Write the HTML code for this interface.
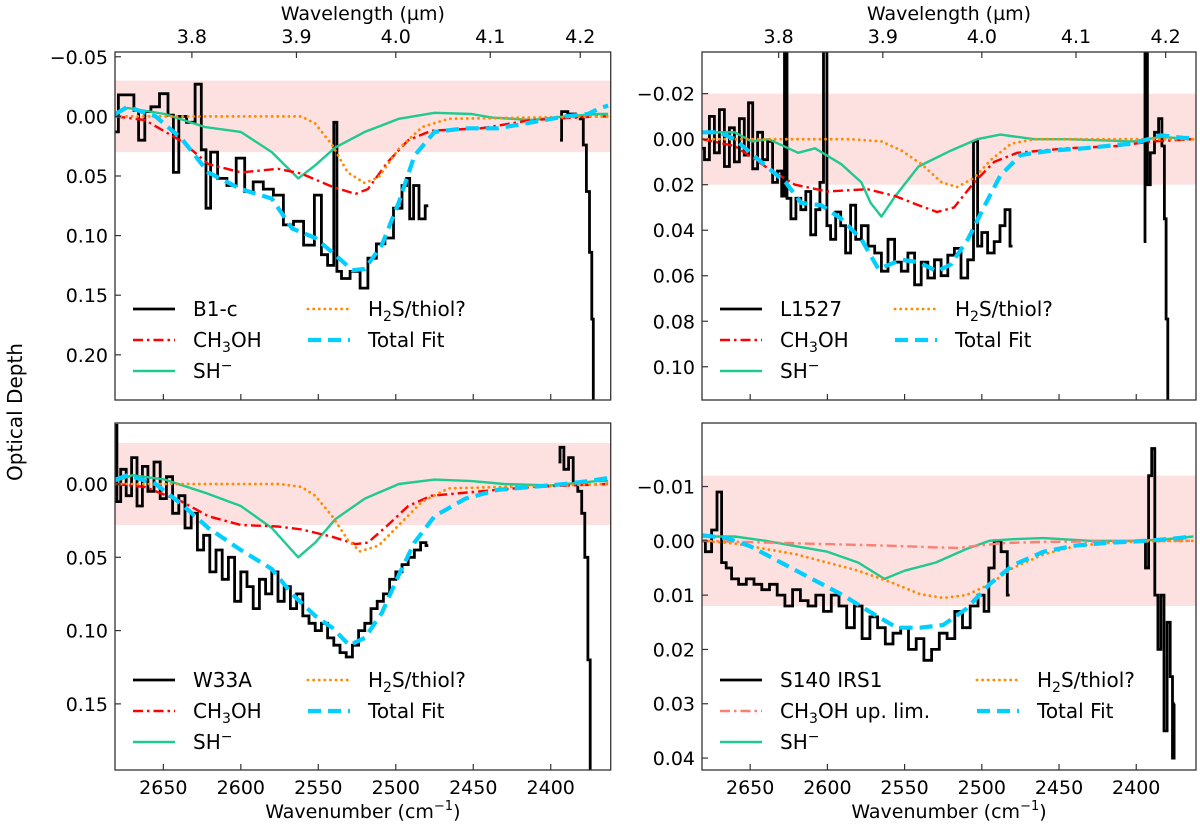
<!DOCTYPE html>
<html><head><meta charset="utf-8"><style>
html,body{margin:0;padding:0;background:#fff}
svg{display:block;font-family:"DejaVu Sans","Liberation Sans",sans-serif}
</style></head><body>
<svg id="fig" width="1200" height="827" viewBox="0 0 1200 827" xmlns="http://www.w3.org/2000/svg"></svg>
<script>
// ---------- shared axis data ----------
const wnTicks=[2650,2600,2550,2500,2450,2400];
const wlTicks=[3.8,3.9,4.0,4.1,4.2];
// ---------- B1-c (top-left) ----------
const b1Name="B1-c";
const b1YTicks=[-0.05,0,0.05,0.10,0.15,0.20];
const b1ShNu=[2681,2673,2649,2623,2600,2580,2563,2552,2539,2520,2498,2475,2451,2438,2412,2391,2369,2363];
const b1ShTau=[-0.002,-0.007,-0.002,0.009,0.013,0.03,0.052,0.041,0.026,0.013,0.002,-0.003,-0.002,0.001,0.003,0,-0.002,-0.002];
const b1MeNu=[2681,2662,2638,2621,2600,2576,2561,2541,2526,2518,2505,2492,2477,2445,2412,2370,2363];
const b1MeTau=[0,0.003,0.021,0.04,0.047,0.044,0.048,0.059,0.065,0.061,0.038,0.02,0.012,0.01,0.003,0,0];
const b1HsNu=[2681,2561,2552,2541,2531,2520,2511,2498,2483,2466,2363];
const b1HsTau=[0,0,0.006,0.024,0.047,0.056,0.051,0.027,0.009,0.002,0];
const b1FitNu=[2681,2673,2655,2638,2621,2600,2580,2567,2552,2541,2528,2520,2509,2498,2488,2475,2455,2434,2412,2391,2376,2368,2363];
const b1FitTau=[-0.002,-0.008,0,0.019,0.047,0.061,0.069,0.094,0.102,0.114,0.129,0.128,0.108,0.072,0.033,0.013,0.01,0.01,0.005,0,-0.002,-0.007,-0.009];
const b1ObsNu=[2681,2677,2670,2668,2664,2660,2656,2649,2645,2642,2638,2632,2627,2624,2621,2618,2612,2606,2600,2595,2589,2582,2576,2569,2563,2556,2549,2547,2541,2539,2537,2533,2526,2520,2516,2509,2505,2498,2494,2492,2490,2487,2483,2479];
const b1ObsTau=[0.013,-0.018,-0.018,-0.005,0.02,-0.004,-0.008,-0.019,-0.001,0.047,0,0.005,-0.027,0.028,0.077,0.03,0.052,0.058,0.035,0.063,0.055,0.061,0.066,0.091,0.088,0.108,0.066,0.116,0.125,0.005,0.13,0.136,0.13,0.144,0.119,0.107,0.102,0.077,0.058,0.052,0.086,0.058,0.086,0.075];
const b1Obs2Nu=[2394,2392,2386,2382,2380,2378,2376,2374,2373,2372];
const b1Obs2Tau=[0.02,-0.004,-0.002,0,0.002,0.024,0.063,0.114,0.17,0.26];
// ---------- L1527 (top-right) ----------
const l1Name="L1527";
const l1YTicks=[-0.02,0,0.02,0.04,0.06,0.08,0.10];
const l1ShNu=[2681,2660,2649,2638,2619,2608,2591,2578,2572,2565,2556,2541,2520,2503,2488,2466,2445,2423,2402,2384,2363];
const l1ShTau=[-0.003,-0.003,0.001,0,0.006,0.004,0.011,0.019,0.028,0.034,0.025,0.012,0.005,0,-0.002,0,0,0.0005,0.001,-0.001,0];
const l1MeNu=[2681,2660,2638,2621,2600,2574,2556,2541,2529,2518,2505,2492,2477,2445,2412,2390,2363];
const l1MeTau=[0,0.003,0.013,0.02,0.023,0.022,0.025,0.029,0.032,0.03,0.019,0.01,0.006,0.004,0.003,0.001,0];
const l1HsNu=[2681,2585,2565,2552,2539,2526,2516,2505,2494,2481,2466,2363];
const l1HsTau=[0,0,0.001,0.005,0.011,0.019,0.021,0.017,0.009,0.002,0,0];
const l1FitNu=[2681,2670,2660,2643,2627,2617,2604,2591,2578,2567,2552,2541,2529,2520,2509,2498,2488,2475,2455,2434,2412,2402,2384,2369,2363];
const l1FitTau=[-0.003,-0.003,0,0.01,0.019,0.028,0.029,0.035,0.044,0.057,0.053,0.054,0.058,0.055,0.044,0.029,0.016,0.007,0.005,0.004,0.0025,0.002,-0.0017,-0.0005,-0.0005];
const l1ObsNu=[2681.2,2678,2674.8,2671.5,2668.3,2665.1,2661.8,2658.6,2655.4,2652.2,2650,2646.8,2643.6,2640.3,2637.1,2633.9,2630.7,2628.5,2627,2625.3,2622,2618.8,2615.6,2612.4,2609.2,2605.9,2603.8,2601.2,2599.5,2596.3,2593,2589.8,2586.6,2583.3,2580.1,2575.8,2571.5,2567.2,2562.9,2558.6,2554.3,2550,2545.7,2541.4,2537.1,2532.8,2528.5,2524.2,2519.9,2515.6,2511.3,2507,2503.8,2501.6,2498.4,2494.1,2489.8,2486.6,2483.4,2480.1];
const l1ObsTau=[0.004,0.009,-0.010,0.006,-0.013,0.012,-0.005,0.010,-0.009,0.007,-0.016,0.013,-0.003,0.009,0.001,0.019,0.014,0.025,-0.046,0.026,0.035,0.026,0.031,0.023,0.042,0.031,0.019,-0.046,0.038,0.044,0.032,0.038,0.050,0.029,0.044,0.038,0.047,0.050,0.058,0.044,0.054,0.058,0.050,0.064,0.054,0.061,0.053,0.060,0.051,0.048,0.061,0.053,0.001,0.047,0.041,0.050,0.045,0.038,0.031,0.047];
const l1Obs2Nu=[2395.2,2393.5,2392,2389.8,2386.6,2384.4,2382.3,2381.2,2380.1,2379];
const l1Obs2Tau=[0.045,-0.046,0.020,0.006,-0.003,-0.009,0.003,0.035,0.079,0.12];
// ---------- W33A (bottom-left) ----------
const w3Name="W33A";
const w3YTicks=[0,0.05,0.10,0.15];
const w3ShNu=[2681,2670,2649,2623,2600,2580,2563,2552,2539,2520,2498,2475,2451,2430,2400,2370,2363];
const w3ShTau=[-0.002,-0.006,-0.003,0.006,0.015,0.03,0.05,0.04,0.024,0.01,0,-0.003,-0.002,0,0.001,-0.002,-0.002];
const w3MeNu=[2681,2662,2638,2621,2600,2576,2561,2541,2526,2518,2505,2492,2477,2445,2412,2363];
const w3MeTau=[0,0.002,0.012,0.022,0.028,0.029,0.031,0.036,0.041,0.04,0.028,0.015,0.008,0.005,0.002,0];
const w3HsNu=[2681,2575,2561,2552,2541,2531,2523,2511,2498,2483,2466,2363];
const w3HsTau=[0,0,0.002,0.008,0.022,0.038,0.046,0.042,0.028,0.012,0.003,0];
const w3FitNu=[2681,2673,2655,2638,2621,2600,2580,2567,2552,2541,2530,2520,2509,2498,2488,2475,2455,2434,2412,2391,2376,2363];
const w3FitTau=[-0.003,-0.006,0,0.014,0.03,0.045,0.058,0.075,0.09,0.098,0.11,0.105,0.088,0.062,0.04,0.022,0.01,0.004,0.002,0,-0.002,-0.004];
const w3ObsNu=[2681,2679,2676,2672,2669,2665,2662,2658,2654,2650,2646,2642,2638,2634,2630,2626,2622,2618,2614,2610,2606,2602,2598,2594,2590,2586,2582,2578,2574,2570,2566,2562,2558,2554,2550,2546,2542,2538,2534,2530,2526,2522,2518,2514,2510,2506,2502,2498,2494,2490,2486,2482,2479];
const w3ObsTau=[-0.04,0.012,-0.01,0.008,-0.018,0.015,-0.012,0.005,-0.015,0.01,-0.005,0.02,0.008,0.03,0.02,0.045,0.035,0.06,0.045,0.065,0.05,0.08,0.06,0.07,0.085,0.065,0.075,0.06,0.08,0.07,0.085,0.075,0.09,0.095,0.1,0.095,0.105,0.11,0.115,0.118,0.11,0.1,0.095,0.085,0.08,0.075,0.065,0.06,0.055,0.05,0.045,0.04,0.042];
const w3Obs2Nu=[2395,2393,2390,2387,2384,2381,2379,2377,2375,2374];
const w3Obs2Tau=[-0.015,-0.025,-0.01,-0.018,0,0.005,0.02,0.05,0.12,0.2];
// ---------- S140 IRS1 (bottom-right) ----------
const s1Name="S140 IRS1";
const s1YTicks=[-0.01,0,0.01,0.02,0.03,0.04];
const s1ShNu=[2681,2660,2640,2620,2600,2580,2563,2550,2530,2510,2495,2480,2460,2430,2400,2380,2363];
const s1ShTau=[-0.0008,-0.0008,0,0.001,0.002,0.004,0.007,0.0055,0.004,0.0015,0,-0.0003,-0.0005,0,0,-0.0003,-0.0008];
const s1MeNu=[2681,2640,2600,2560,2530,2515,2500,2485,2460,2420,2363];
const s1MeTau=[0,0.0003,0.0006,0.0009,0.0012,0.0013,0.0008,0.0004,0.0002,0.0001,0];
const s1HsNu=[2681,2660,2640,2620,2600,2580,2560,2540,2525,2510,2495,2480,2460,2440,2420,2400,2363];
const s1HsTau=[0,0.0005,0.0015,0.0025,0.004,0.0055,0.0075,0.0098,0.0105,0.01,0.008,0.005,0.0025,0.001,0.0004,0.0001,0];
const s1FitNu=[2681,2665,2650,2630,2610,2590,2570,2555,2540,2525,2510,2495,2480,2460,2440,2420,2400,2380,2363];
const s1FitTau=[-0.001,-0.0005,0.001,0.004,0.007,0.01,0.0135,0.016,0.016,0.0155,0.0125,0.008,0.0045,0.002,0.0009,0.0004,0.0001,-0.0003,-0.0008];
const s1ObsNu=[2681,2677,2673,2670,2667,2664,2660,2655,2650,2645,2640,2635,2630,2625,2620,2615,2610,2605,2600,2595,2590,2585,2580,2575,2570,2565,2560,2555,2550,2545,2540,2535,2530,2525,2520,2515,2510,2505,2500,2497,2494,2490,2485,2482];
const s1ObsTau=[0,0.002,-0.002,-0.009,0.004,0.005,0.007,0.008,0.007,0.008,0.009,0.008,0.01,0.012,0.009,0.011,0.012,0.01,0.013,0.01,0.012,0.016,0.012,0.018,0.014,0.016,0.019,0.017,0.016,0.02,0.018,0.022,0.02,0.017,0.018,0.013,0.016,0.012,0.01,0.013,0.005,0,0.002,0.01];
const s1Obs2Nu=[2395,2393,2391,2389,2387,2385,2383,2381,2379,2377,2376,2375];
const s1Obs2Tau=[0,0.005,-0.012,-0.017,0.01,0.02,0.01,0.035,0.015,0.025,0.04,0.03];

const NS="http://www.w3.org/2000/svg";
const svg=document.getElementById('fig');
function mk(tag,attrs,parent){const e=document.createElementNS(NS,tag);for(const k in attrs)e.setAttribute(k,attrs[k]);(parent||svg).appendChild(e);return e;}

const panels=[
 {id:'b1',L:115,R:610.7,T:52,B:400,ymin:-0.0540,ymax:0.2379,band:0.03,name:b1Name,yt:b1YTicks,dec:2,top:true,
  sh:[b1ShNu,b1ShTau],me:[b1MeNu,b1MeTau],hs:[b1HsNu,b1HsTau],fit:[b1FitNu,b1FitTau],obs:[b1ObsNu,b1ObsTau],obs2:[b1Obs2Nu,b1Obs2Tau],meLab:'CH3OH',meCol:'#ff0000'},
 {id:'l1',L:702,R:1196,T:52,B:400,ymin:-0.0383,ymax:0.1146,band:0.02,name:l1Name,yt:l1YTicks,dec:2,top:true,
  sh:[l1ShNu,l1ShTau],me:[l1MeNu,l1MeTau],hs:[l1HsNu,l1HsTau],fit:[l1FitNu,l1FitTau],obs:[l1ObsNu,l1ObsTau],obs2:[l1Obs2Nu,l1Obs2Tau],meLab:'CH3OH',meCol:'#ff0000'},
 {id:'w3',L:115,R:610.7,T:423,B:770,ymin:-0.0416,ymax:0.1951,band:0.028,name:w3Name,yt:w3YTicks,dec:2,top:false,
  sh:[w3ShNu,w3ShTau],me:[w3MeNu,w3MeTau],hs:[w3HsNu,w3HsTau],fit:[w3FitNu,w3FitTau],obs:[w3ObsNu,w3ObsTau],obs2:[w3Obs2Nu,w3Obs2Tau],meLab:'CH3OH',meCol:'#ff0000'},
 {id:'s1',L:702,R:1196,T:423,B:770,ymin:-0.0217,ymax:0.0422,band:0.012,name:s1Name,yt:s1YTicks,dec:2,top:false,
  sh:[s1ShNu,s1ShTau],me:[s1MeNu,s1MeTau],hs:[s1HsNu,s1HsTau],fit:[s1FitNu,s1FitTau],obs:[s1ObsNu,s1ObsTau],obs2:[s1Obs2Nu,s1Obs2Tau],meLab:'CH3OH up. lim.',meCol:'#fa8072'}
];
const NU0=2681.2, NU1=2361.3;
const shStyle={stroke:'#1fc98f','stroke-width':2.4};
const hsStyle={stroke:'#ff8c00','stroke-width':2.8,'stroke-dasharray':'0.1,5.5','stroke-linecap':'round'};
const fitStyle={stroke:'#00cfff','stroke-width':4.2,'stroke-dasharray':'13,7'};

panels.forEach(p=>{
  const sx=nu=>p.L+(NU0-nu)/(NU0-NU1)*(p.R-p.L);
  const sy=t=>p.T+(t-p.ymin)/(p.ymax-p.ymin)*(p.B-p.T);
  const meStyle={stroke:p.meCol,'stroke-width':2.4,'stroke-dasharray':'10,4,2.5,4'};
  const g=mk('g',{});
  
  
  const cp=mk('clipPath',{id:'clip-'+p.id},g);
  mk('rect',{x:p.L,y:p.T,width:p.R-p.L,height:p.B-p.T},cp);
  const band=mk('rect',{x:p.L,y:sy(-p.band),width:p.R-p.L,height:sy(p.band)-sy(-p.band),fill:'#fde0e0'},g);
  
  
  const cg=mk('g',{'clip-path':'url(#clip-'+p.id+')'},g);
  function line(arr,style,name){
    const d=arr[0].map((nu,i)=>(i?'L':'M')+sx(nu).toFixed(1)+','+sy(arr[1][i]).toFixed(1)).join('');
    const e=mk('path',Object.assign({d:d,fill:'none','stroke-linejoin':'round'},style),cg);
    
    
  }
  function steps(arr,name){
    const nus=arr[0],ts=arr[1];let d='';
    for(let i=0;i<nus.length;i++){
      const x0=i?(sx(nus[i-1])+sx(nus[i]))/2:sx(nus[i]);
      const x1=i<nus.length-1?(sx(nus[i])+sx(nus[i+1]))/2:sx(nus[i]);
      const y=sy(ts[i]);
      d+=(i?'L':'M')+x0.toFixed(1)+','+y.toFixed(1)+'L'+x1.toFixed(1)+','+y.toFixed(1);
    }
    const e=mk('path',{d:d,fill:'none',stroke:'#000','stroke-width':2.8,'stroke-linejoin':'miter'},cg);
    
    
  }
  steps(p.obs,'observed-spectrum');
  steps(p.obs2,'observed-spectrum-edge');
  line(p.sh,shStyle,'sh-minus-curve');
  line(p.me,meStyle,'ch3oh-curve');
  line(p.hs,hsStyle,'h2s-curve');
  line(p.fit,fitStyle,'total-fit-curve');
  const fr=mk('rect',{x:p.L,y:p.T,width:p.R-p.L,height:p.B-p.T,fill:'none',stroke:'#333','stroke-width':1.3},g);
  
  
  wnTicks.forEach(v=>{
    const x=sx(v);
    mk('line',{x1:x,x2:x,y1:p.B,y2:p.B-6,stroke:'#333','stroke-width':1.2},g);
    if(!p.top){const t=mk('text',{x:x,y:p.B+24,'font-size':19,'text-anchor':'middle',fill:'#000'},g);t.textContent=v;
      }
  });
  if(p.top){
    wlTicks.forEach(v=>{
      const x=sx(10000/v);
      mk('line',{x1:x,x2:x,y1:p.T,y2:p.T+6,stroke:'#333','stroke-width':1.2},g);
      const t=mk('text',{x:x,y:p.T-9,'font-size':19,'text-anchor':'middle',fill:'#000'},g);t.textContent=v.toFixed(1);
      
    });
    const tt=mk('text',{x:(p.L+p.R)/2,y:20,'font-size':19,'text-anchor':'middle',fill:'#000'},g);
    tt.textContent='Wavelength (µm)';
    
  } else {
    const tt=mk('text',{x:(p.L+p.R)/2,y:818,'font-size':19,'text-anchor':'middle',fill:'#000'},g);
    tt.innerHTML='Wavenumber (cm<tspan font-size="13" dy="-8">−1</tspan><tspan dy="8">)</tspan>';
    
  }
  p.yt.forEach(v=>{
    const y=sy(v);
    mk('line',{x1:p.L,x2:p.L+6,y1:y,y2:y,stroke:'#333','stroke-width':1.2},g);
    const t=mk('text',{x:p.L-7,y:y+7,'font-size':19,'text-anchor':'end',fill:'#000'},g);
    t.textContent=(v<0?'−':'')+Math.abs(v).toFixed(p.dec);
    
  });
  const lg=mk('g',{},g);
  
  
  const r0=p.T+257, dy=31, lx=p.L+18;
  const c2=p.id==='s1'?p.L+275:p.L+193;
  const items=[
    [lx,r0,{stroke:'#000','stroke-width':2.8},p.name],
    [lx,r0+dy,meStyle,p.meLab],
    [lx,r0+2*dy,shStyle,'SH−'],
    [c2,r0,hsStyle,'H2S/thiol?'],
    [c2,r0+dy,fitStyle,'Total Fit']
  ];
  items.forEach(it=>{
    mk('line',Object.assign({x1:it[0],x2:it[0]+42,y1:it[1],y2:it[1]},it[2]),lg);
    const t=mk('text',{x:it[0]+60,y:it[1]+7,'font-size':20,fill:'#000'},lg);
    const s=it[3];
    if(s.startsWith('CH3OH')) t.innerHTML='CH<tspan font-size="14" dy="5">3</tspan><tspan dy="-5">OH'+s.slice(5)+'</tspan>';
    else if(s==='H2S/thiol?') t.innerHTML='H<tspan font-size="14" dy="5">2</tspan><tspan dy="-5">S/thiol?</tspan>';
    else if(s==='SH−') t.innerHTML='SH<tspan font-size="14" dy="-8">−</tspan>';
    else t.textContent=s;
    
    
  });
});
const yl=mk('text',{x:0,y:0,'font-size':20,'text-anchor':'middle',fill:'#000',transform:'translate(22,412) rotate(-90)'});
yl.textContent='Optical Depth';


</script>
</body></html>
